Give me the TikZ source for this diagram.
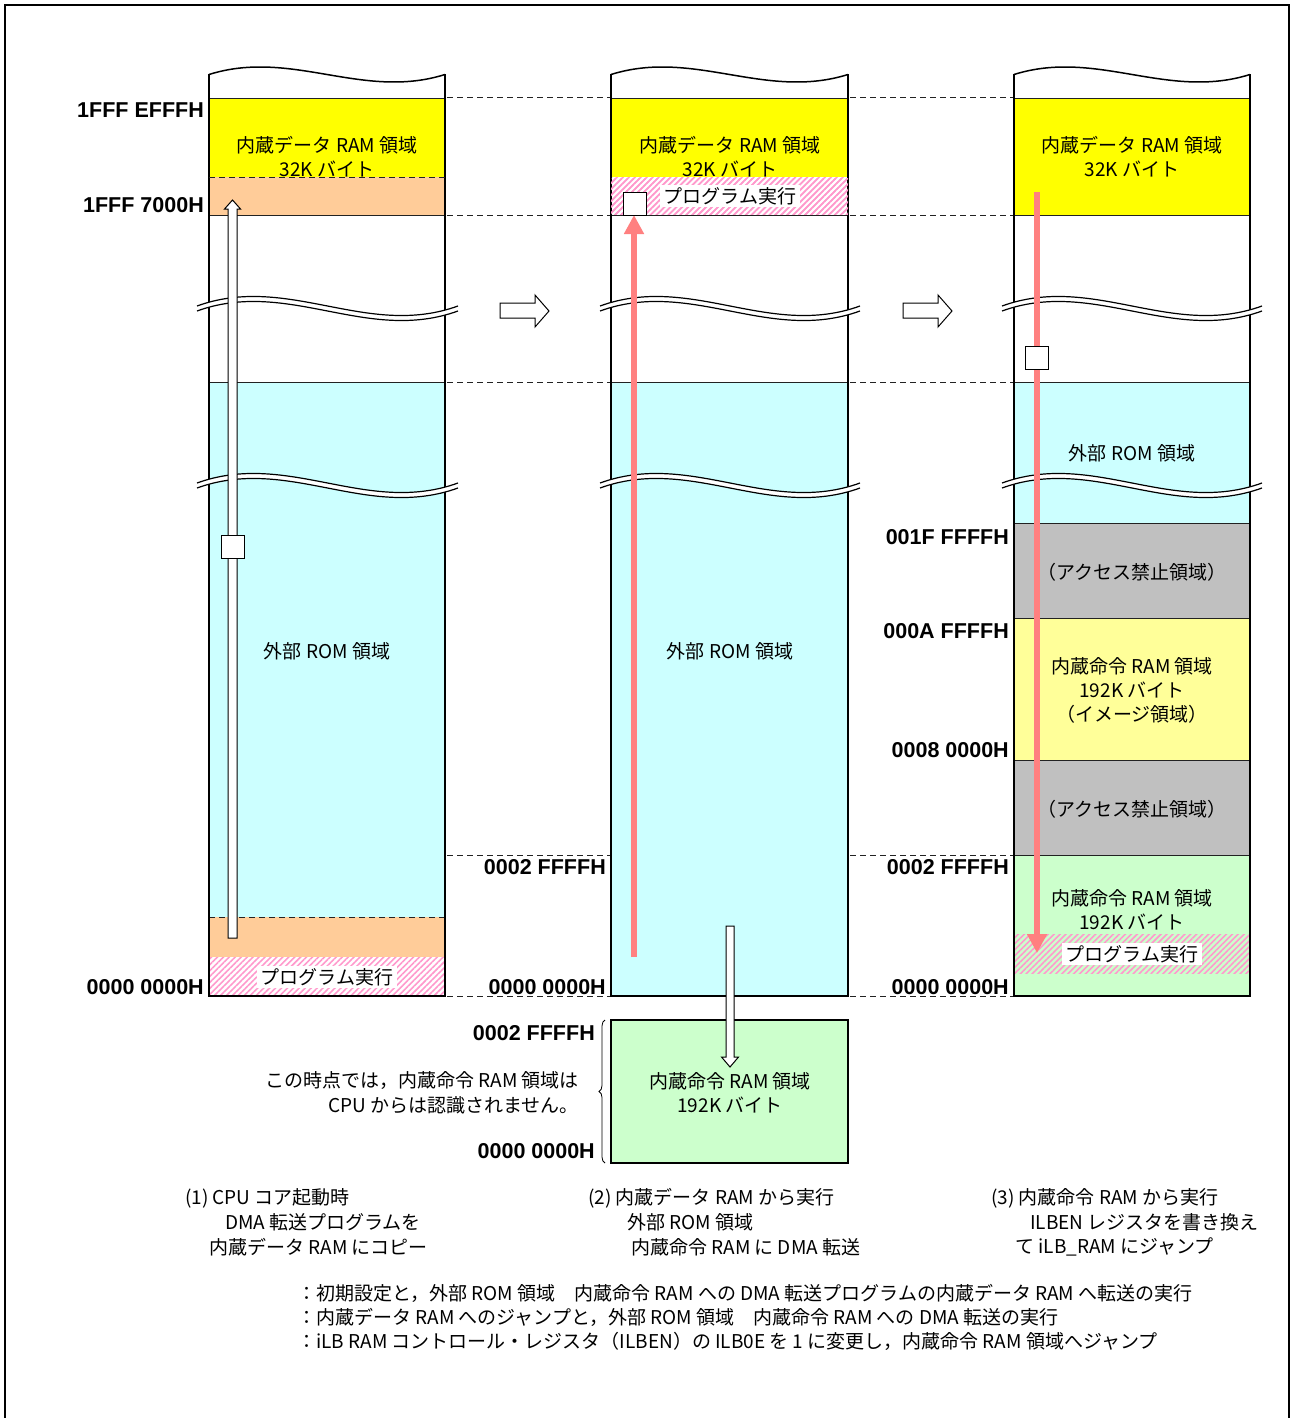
\documentclass[tikz,border=0pt]{standalone}
\usepackage{fontspec}
\setmainfont{Noto Sans CJK JP}
\newfontfamily\labfont{Liberation Sans}
\usetikzlibrary{patterns.meta,arrows.meta,decorations.pathreplacing}
\definecolor{yel}{HTML}{FFFF00}
\definecolor{org}{HTML}{FFCC99}
\definecolor{cyn}{HTML}{CCFFFF}
\definecolor{gry}{HTML}{C0C0C0}
\definecolor{lyel}{HTML}{FFFF99}
\definecolor{lgrn}{HTML}{CCFFCC}
\definecolor{pnk}{HTML}{FF99CC}
\definecolor{redarr}{HTML}{FF8080}
\definecolor{ink}{HTML}{222222}
\newcommand\membreak[3]{%
  \fill[white] (#1,#3) .. controls ({#1+0.35*(#2-#1)},{#3-33}) and ({#1+0.65*(#2-#1)},{#3+33}) .. (#2,#3)
     -- (#2,{#3+5}) .. controls ({#1+0.65*(#2-#1)},{#3+38}) and ({#1+0.35*(#2-#1)},{#3-28}) .. (#1,{#3+5}) -- cycle;
  \draw[line width=1.2pt] (#1,#3) .. controls ({#1+0.35*(#2-#1)},{#3-33}) and ({#1+0.65*(#2-#1)},{#3+33}) .. (#2,#3);
  \draw[line width=1.2pt] (#1,{#3+5}) .. controls ({#1+0.35*(#2-#1)},{#3-28}) and ({#1+0.65*(#2-#1)},{#3+38}) .. (#2,{#3+5});}
\newcommand\memcol[2]{%
  \draw[line width=2.5pt] (#1,74.5) -- (#1,996) -- (#2,996) -- (#2,74.5);
  \draw[line width=1.5pt] (#1,74.5) .. controls ({#1+0.35*(#2-#1)},48.5) and ({#1+0.65*(#2-#1)},100.5) .. (#2,74.5);}
\begin{document}
\begin{tikzpicture}[x=1pt,y=-1pt,
  jp/.style={font=\fontsize{19}{22}\selectfont, inner sep=0pt},
  addr/.style={font=\labfont\fontsize{21.5}{24}\selectfont\bfseries, inner sep=0pt, anchor=east},
  prog/.style={jp, fill=white, inner xsep=4pt, inner ysep=2pt},
  captxt/.style={jp, anchor=west},
  hatch/.style={pattern={Lines[angle=45,distance=4.2pt,line width=1.6pt]}, pattern color=pnk},
  innerline/.style={ink, line width=0.9pt},
  dashline/.style={ink, line width=1pt, dash pattern=on 6pt off 4pt},
  hollow/.style={fill=white, draw=black, line width=1pt, line join=miter},
  sq/.style={draw=black, fill=white, line width=1pt, minimum size=23pt, inner sep=0pt},
  redline/.style={redarr, line width=6pt, -{Triangle[width=19pt,length=19pt]}}]
\useasboundingbox (0,0) rectangle (1290,1418);
% outer frame
\draw[line width=1.5pt] (5,1425) -- (5,5) -- (1289,5) -- (1289,1425);

% ---------- fills ----------
% column 1
\fill[yel] (209,98) rectangle (445,177);
\fill[org] (209,177) rectangle (445,215);
\fill[cyn] (209,382) rectangle (445,917);
\fill[org] (209,917) rectangle (445,957);
\fill[hatch] (209,957) rectangle (445,996);
% column 2
\fill[yel] (611,98) rectangle (848,177);
\fill[hatch] (611,177) rectangle (848,215);
\fill[cyn] (611,382) rectangle (848,996);
% column 3
\fill[yel] (1014,98) rectangle (1250,215);
\fill[cyn] (1014,382) rectangle (1250,523);
\fill[gry] (1014,523) rectangle (1250,618);
\fill[lyel] (1014,618) rectangle (1250,760);
\fill[gry] (1014,760) rectangle (1250,855);
\fill[lgrn] (1014,855) rectangle (1250,996);
\fill[hatch] (1014,934) rectangle (1250,973);

% ---------- inner boundaries ----------
\foreach \xa/\xb in {209/445,611/848,1014/1250}{
  \draw[innerline] (\xa,98) -- (\xb,98);
  \draw[innerline] (\xa,215) -- (\xb,215);
  \draw[innerline] (\xa,382) -- (\xb,382);
}
\draw[dashline] (209,917) -- (445,917);
\foreach \yy in {523,618,760,855}{\draw[innerline] (1014,\yy) -- (1250,\yy);}

% ---------- column outlines ----------
\memcol{209}{445}
\memcol{611}{848}
\memcol{1014}{1250}

% ---------- connecting dashed lines ----------
\foreach \yy in {98,215,382,855,996}{
  \draw[dashline] (447,\yy) -- (610,\yy);
  \draw[dashline] (850,\yy) -- (1013,\yy);
}

% ---------- lower box ----------
\node[draw=black, line width=2.5pt, fill=lgrn, minimum width=237pt, minimum height=143pt, inner sep=0pt] (ramcopy) at (729.5,1091.5) {};
\draw[decorate, decoration={brace, amplitude=6pt}, line width=0.8pt] (605,1163) -- (605,1020);

% ---------- texts in columns ----------
\node[jp] (c1t1) at (327,145) {内蔵データ RAM 領域};
\node[jp] (c1t2) at (327,169) {32K バイト};
\draw[dashline] (209,177) -- (445,177);
\node[jp] (c1rom) at (327,651) {外部 ROM 領域};
\node[prog] (c1prog) at (327,977) {プログラム実行};

\node[jp] (c2t1) at (730,145) {内蔵データ RAM 領域};
\node[jp] (c2t2) at (730,169) {32K バイト};
\fill[hatch] (611,178) rectangle (848,214);
\node[prog] (c2prog) at (730,196) {プログラム実行};
\node[jp] (c2rom) at (730,651) {外部 ROM 領域};

\node[jp] (c3t1) at (1132,145) {内蔵データ RAM 領域};
\node[jp] (c3t2) at (1132,169) {32K バイト};
\node[jp] (c3rom) at (1132,453) {外部 ROM 領域};
\node[jp] (c3na1) at (1132,572) {（アクセス禁止領域）};
\node[jp] (c3i1) at (1132,666) {内蔵命令 RAM 領域};
\node[jp] (c3i2) at (1132,690) {192K バイト};
\node[jp] (c3i3) at (1132,714) {（イメージ領域）};
\node[jp] (c3na2) at (1132,809) {（アクセス禁止領域）};
\node[jp] (c3g1) at (1132,898) {内蔵命令 RAM 領域};
\node[jp] (c3g2) at (1132,922) {192K バイト};
\node[prog] (c3prog) at (1132,954) {プログラム実行};

\node[jp] (bx1) at (730,1081) {内蔵命令 RAM 領域};
\node[jp] (bx2) at (730,1105) {192K バイト};

% ---------- address labels ----------
\node[addr] (a1) at (204,110) {1FFF EFFFH};
\node[addr] (a2) at (204,205) {1FFF 7000H};
\node[addr] (a3) at (204,987) {0000 0000H};
\node[addr] (a4) at (606,867) {0002 FFFFH};
\node[addr] (a5) at (606,987) {0000 0000H};
\node[addr] (a6) at (1009,537) {001F FFFFH};
\node[addr] (a7) at (1009,631) {000A FFFFH};
\node[addr] (a8) at (1009,750) {0008 0000H};
\node[addr] (a9) at (1009,867) {0002 FFFFH};
\node[addr] (a10) at (1009,987) {0000 0000H};
\node[addr] (a11) at (595,1033) {0002 FFFFH};
\node[addr] (a12) at (595,1151) {0000 0000H};

\node[jp, anchor=east] (note1) at (579,1081) {この時点では，内蔵命令 RAM 領域は};
\node[jp, anchor=east] (note2) at (579,1105) {CPU からは認識されません。};

% ---------- breaks ----------
\foreach \xa/\xb in {197/458,600/860,1002/1262}{
  \membreak{\xa}{\xb}{306}
  \membreak{\xa}{\xb}{483}
}

% ---------- arrows between columns ----------
\draw[hollow] (500,303) -- (535,303) -- (535,295) -- (549,311) -- (535,327) -- (535,318) -- (500,318) -- cycle;
\draw[hollow] (903,303) -- (938,303) -- (938,295) -- (952,311) -- (938,327) -- (938,318) -- (903,318) -- cycle;

% ---------- flow arrows ----------
% column 1: hollow up arrow
\draw[hollow] (228,938) -- (228,209) -- (224.5,209) -- (232.5,200) -- (240.5,209) -- (237,209) -- (237,938) -- cycle;
\node[sq] (s1) at (232.5,547) {};
% column 2: red up arrow
\coordinate (r2a) at (634,957);
\coordinate (r2b) at (634,215);
\draw[redline] (r2a) -- (r2b);
\node[sq] (s2) at (634.5,204) {};
% column 2: hollow down arrow to box
\draw[hollow] (726,926) -- (734,926) -- (734,1057) -- (738.5,1057) -- (730,1067) -- (721.5,1057) -- (726,1057) -- cycle;
% column 3: red down arrow
\coordinate (r3a) at (1037,192);
\coordinate (r3b) at (1037,953);
\draw[redline] (r3a) -- (r3b);
\node[sq] (s3) at (1037,358) {};

% ---------- captions ----------
\node[captxt] (k11) at (185,1198) {(1) CPU コア起動時};
\node[captxt] (k12) at (225,1222) {DMA 転送プログラムを};
\node[captxt] (k13) at (209,1247) {内蔵データ RAM にコピー};
\node[captxt] (k21) at (588,1198) {(2) 内蔵データ RAM から実行};
\node[captxt] (k22) at (627,1222) {外部 ROM 領域};
\node[captxt] (k23) at (631,1247) {内蔵命令 RAM に DMA 転送};
\node[captxt] (k31) at (991,1198) {(3) 内蔵命令 RAM から実行};
\node[captxt] (k32) at (1030,1222) {ILBEN レジスタを書き換え};
\node[captxt] (k33) at (1015,1247) {て iLB\_RAM にジャンプ};

\node[captxt] (l1) at (297,1293) {：初期設定と，外部 ROM 領域　内蔵命令 RAM への DMA 転送プログラムの内蔵データ RAM へ転送の実行};
\node[captxt] (l2) at (297,1317) {：内蔵データ RAM へのジャンプと，外部 ROM 領域　内蔵命令 RAM への DMA 転送の実行};
\node[captxt] (l3) at (297,1341) {：iLB RAM コントロール・レジスタ（ILBEN）の ILB0E を 1 に変更し，内蔵命令 RAM 領域へジャンプ};
\end{tikzpicture}
\end{document}
